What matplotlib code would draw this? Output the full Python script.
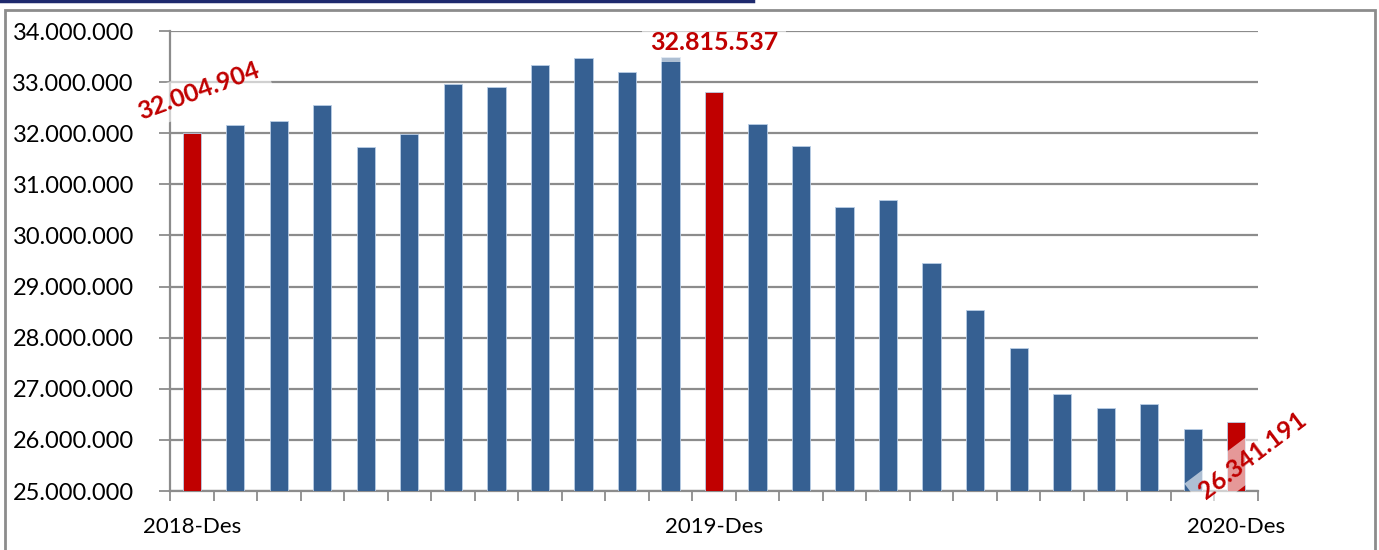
import matplotlib.pyplot as plt
from matplotlib.lines import Line2D
from matplotlib.patches import Rectangle
from matplotlib.ticker import FuncFormatter
import numpy as np

plt.rcParams['font.family'] = ['Lato', 'DejaVu Sans']

# monthly values, Des 2018 .. Des 2020
months = ['2018-Des', '2019-Jan', '2019-Feb', '2019-Mar', '2019-Apr', '2019-Mei', '2019-Jun',
          '2019-Jul', '2019-Agu', '2019-Sep', '2019-Okt', '2019-Nov', '2019-Des',
          '2020-Jan', '2020-Feb', '2020-Mar', '2020-Apr', '2020-Mei', '2020-Jun',
          '2020-Jul', '2020-Agu', '2020-Sep', '2020-Okt', '2020-Nov', '2020-Des']
values = [32004904, 32160000, 32240000, 32560000, 31730000, 31990000, 32960000,
          32910000, 33330000, 33470000, 33200000, 33490000, 32815537,
          32180000, 31750000, 30560000, 30700000, 29460000, 28540000,
          27800000, 26900000, 26620000, 26700000, 26220000, 26341191]
shown_labels = ['2018-Des', '2019-Des', '2020-Des']

blue = '#366092'
red = '#c00000'
grey = '#8c8c8c'


def dots(v, pos=None):
	return f'{int(round(v)):,}'.replace(',', '.')


fig = plt.figure(figsize=(13.79, 5.5), dpi=100)
ax = fig.add_axes([170 / 1379, 1 - 491 / 550, 1088 / 1379, 460 / 550])

x = np.arange(len(months))
colors = [red if m in shown_labels else blue for m in months]
ax.bar(x, values, width=0.42, color=colors, edgecolor='#b9cde5', linewidth=0.6, zorder=3)

ax.set_xlim(-0.5, len(months) - 0.5)
ax.set_ylim(25000000, 34000000)
ax.set_yticks(np.arange(25000000, 34000001, 1000000))
ax.yaxis.set_major_formatter(FuncFormatter(dots))
ax.grid(axis='y', color=grey, linewidth=1.6, zorder=0)

# ticks between categories, labels only on Des months
ax.set_xticks(np.arange(-0.5, len(months)), minor=False)
ax.set_xticklabels([])
ax.set_xticks([i for i, m in enumerate(months) if m in shown_labels], minor=True)
ax.set_xticklabels([m for m in months if m in shown_labels], minor=True)
ax.tick_params(axis='x', which='major', length=7, width=1.3, color=grey, direction='out')
ax.tick_params(axis='x', which='minor', length=0, labelsize=16, pad=19)
ax.tick_params(axis='y', length=8, width=1.3, color=grey, labelsize=17, pad=18)

for s in ['top', 'right']:
	ax.spines[s].set_visible(False)
for s in ['left', 'bottom']:
	ax.spines[s].set_color(grey)
	ax.spines[s].set_linewidth(1.6)

# value callouts on the December bars
offsets = {'2018-Des': (5, 30, 20), '2019-Des': (0, 35, 0), '2020-Des': (12, -24, 37)}
for i, m in enumerate(months):
	if m in offsets:
		dx, dy, rot = offsets[m]
		ax.annotate(dots(values[i]), (i, values[i]), xytext=(dx, dy), textcoords='offset points',
		            ha='center', va='center', rotation=rot, rotation_mode='anchor',
		            color=red, fontsize=18, fontweight='bold', zorder=5,
		            bbox=dict(boxstyle='square,pad=0.3', fc='white', ec='none', alpha=0.6))

# outer chart frame and top rule
fig.add_artist(Rectangle((5 / 1379, -0.05), 1370 / 1379, 1.05 - 10 / 550, transform=fig.transFigure,
                         fill=False, ec=grey, lw=2))
fig.add_artist(Line2D([0, 753 / 1379], [1 - 1 / 550, 1 - 1 / 550], transform=fig.transFigure,
                      color='#1f2a6e', lw=2.5))

fig.savefig('out.png', dpi=100)
